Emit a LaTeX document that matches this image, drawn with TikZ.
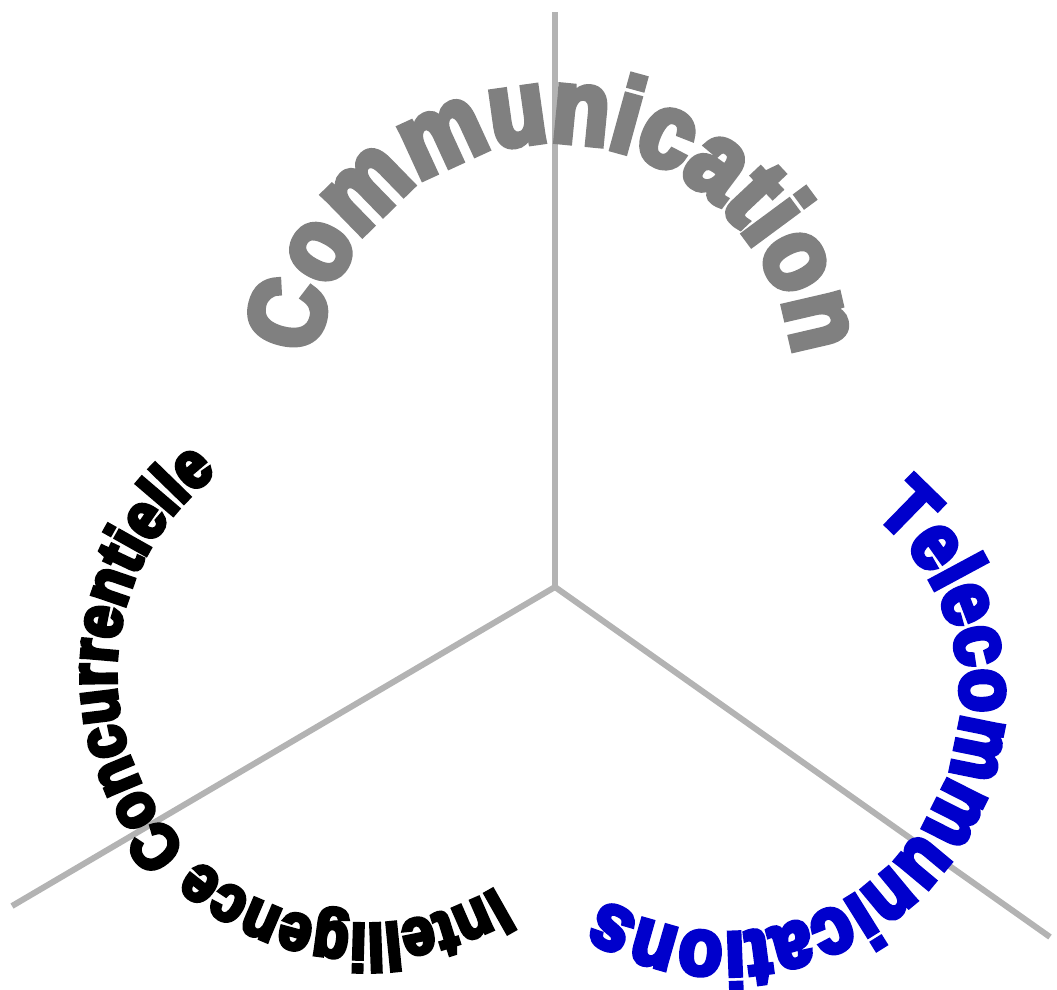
\documentclass[tikz,border=0pt]{standalone}
\usepackage{fontspec}
\newfontfamily\arcfont{Liberation Sans}[BoldFeatures={FakeBold=6,FakeStretch=0.88}]
\usetikzlibrary{decorations.text}
\definecolor{spoke}{HTML}{B3B3B3}
\definecolor{commgray}{HTML}{808080}
\definecolor{telblue}{HTML}{0000CC}
\tikzset{
  spokeline/.style={draw=spoke,line width=0.06cm},
  arctext/.style={decorate,decoration={text along path,text align=center,#1}}
}
\begin{document}
\begin{tikzpicture}
\useasboundingbox (-5.55,-4.02) rectangle (5.02,5.87);
\coordinate (hub) at (0,0);
\coordinate (up) at (0,5.75);
\coordinate (left) at (-5.43,-3.19);
\coordinate (right) at (4.95,-3.50);
\draw[spokeline] (hub) -- (up);
\draw[spokeline] (hub) -- (left);
\draw[spokeline] (hub) -- (right);
% centres of the three arcs
\coordinate (commc) at (0,2.05);
\coordinate (telc) at (1.70,-1.10);
\coordinate (intc) at (-1.89,-0.87);
\path[arctext={text color=commgray,text={|\arcfont\bfseries\fontsize{30}{36}\selectfont|Communication}}]
  (commc) ++(170:2.40) arc[start angle=170,end angle=10,radius=2.40];
\path[arctext={text color=telblue,text={|\arcfont\bfseries\fontsize{23}{28}\selectfont|Telecommunications}}]
  (telc) ++(51:2.36) arc[start angle=51,end angle=-121,radius=2.36];
\path[arctext={text color=black,text={|\arcfont\bfseries\fontsize{18.8}{22}\selectfont|Intelligence Concurrentielle}}]
  (intc) ++(-58.6:2.50) arc[start angle=-58.6,end angle=-233.5,radius=2.50];
\end{tikzpicture}
\end{document}
